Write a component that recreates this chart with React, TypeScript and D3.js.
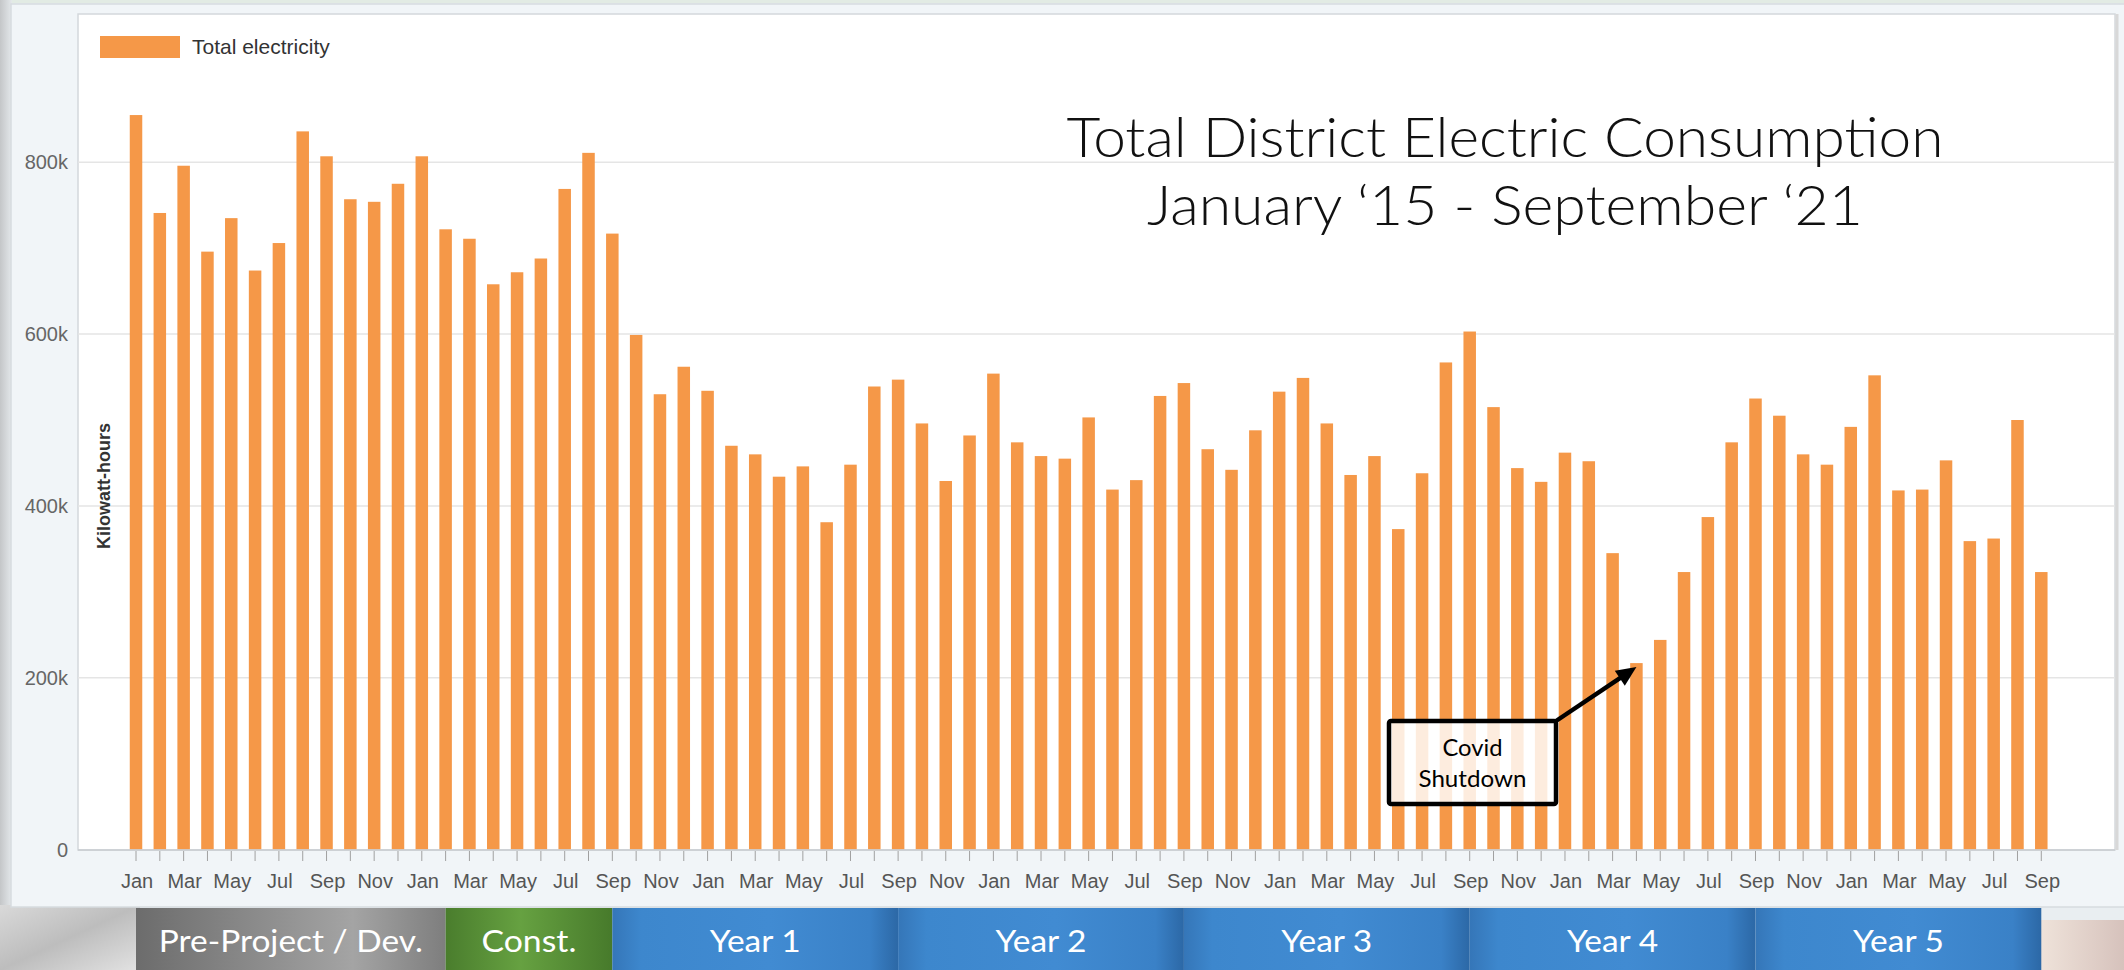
import React from "react";
import * as d3 from "d3";

// ---------- data ----------
const years = [2015, 2016, 2017, 2018, 2019, 2020, 2021];
const monthNames = ["Jan", "Feb", "Mar", "Apr", "May", "Jun", "Jul", "Aug", "Sep", "Oct", "Nov", "Dec"];

// Total electricity, kWh
const kwh2015 = [855000, 741000, 796000, 696000, 735000, 674000, 706000, 836000, 807000, 757000, 754000, 775000];
const kwh2016 = [807000, 722000, 711000, 658000, 672000, 688000, 769000, 811000, 717000, 599000, 530000, 562000];
const kwh2017 = [534000, 470000, 460000, 434000, 446000, 381000, 448000, 539000, 547000, 496000, 429000, 482000];
const kwh2018 = [554000, 474000, 458000, 455000, 503000, 419000, 430000, 528000, 543000, 466000, 442000, 488000];
const kwh2019 = [533000, 549000, 496000, 436000, 458000, 373000, 438000, 567000, 603000, 515000, 444000, 428000];
const kwh2020 = [462000, 452000, 345000, 217000, 244000, 323000, 387000, 474000, 525000, 505000, 460000, 448000];
const kwh2021 = [492000, 552000, 418000, 419000, 453000, 359000, 362000, 500000, 323000];

const yTicks = [0, 200000, 400000, 600000, 800000];

// project phases (start index in months, end = next start)
const phaseNames = ["Pre-Project / Dev.", "Const.", "Year 1", "Year 2", "Year 3", "Year 4", "Year 5"];
const phaseStart = [0, 13, 20, 32, 44, 56, 68];
const phaseEnd = [13, 20, 32, 44, 56, 68, 80];
const phaseFill = ["url(#gGray)", "url(#gGreen)", "url(#gBlue)", "url(#gBlue)", "url(#gBlue)", "url(#gBlue)", "url(#gBlue)"];
const phaseTextLen = [264, 95, 91, 91, 91, 91, 91];

const titleLines = ["Total District Electric Consumption", "January \u201815 - September \u201821"];
const covidLines = ["Covid", "Shutdown"];
const covidIndex = 63; // Apr 2020

export default function App() {
  const W = 2124;
  const H = 970;
  const allValues = [...kwh2015, ...kwh2016, ...kwh2017, ...kwh2018, ...kwh2019, ...kwh2020, ...kwh2021];
  const cats = allValues.map((_, i) => `${years[Math.floor(i / 12)]}-${monthNames[i % 12]}`);

  const plotL = 78, plotR = 2115, plotT = 14, plotB = 850;

  const x = d3.scaleBand<string>().domain(cats).range([124.1, 2053.2]).paddingInner(0.475).paddingOuter(0.2375);
  const y = d3.scaleLinear().domain([0, 800000]).range([849.5, 162.3]);
  const xc = (i: number) => (x(cats[i]) as number) + x.bandwidth() / 2;

  const ORANGE = "#f59848";

  // covid annotation
  const box = { x0: 1389, y0: 721, x1: 1556, y1: 804 };
  const tipX = xc(covidIndex);
  const tipY = y(allValues[covidIndex]) + 4;
  const sx = box.x1, sy = box.y0;
  const dx = tipX - sx, dy = tipY - sy;
  const len = Math.sqrt(dx * dx + dy * dy);
  const ux = dx / len, uy = dy / len;
  const headL = 20, headW = 9;
  const bx = tipX - ux * headL, by = tipY - uy * headL;
  const head = `${tipX},${tipY} ${bx - uy * headW},${by + ux * headW} ${bx + uy * headW},${by - ux * headW}`;

  return (
    <svg width={W} height={H} style={{ position: "absolute", left: 0, top: 0 }} xmlns="http://www.w3.org/2000/svg">
      <defs>
        <linearGradient id="gGray" x1="0" x2="1" y1="0" y2="0">
          <stop offset="0" stopColor="#6c6c6c" />
          <stop offset="0.7" stopColor="#a4a4a4" />
          <stop offset="1" stopColor="#7e7e7e" />
        </linearGradient>
        <linearGradient id="gGreen" x1="0" x2="1" y1="0" y2="0">
          <stop offset="0" stopColor="#4a7d2d" />
          <stop offset="0.45" stopColor="#66a141" />
          <stop offset="1" stopColor="#477a2b" />
        </linearGradient>
        <linearGradient id="gBlue" x1="0" x2="1" y1="0" y2="0">
          <stop offset="0" stopColor="#3576b8" />
          <stop offset="0.1" stopColor="#3d87cd" />
          <stop offset="0.55" stopColor="#418bd2" />
          <stop offset="0.9" stopColor="#3a81c7" />
          <stop offset="1" stopColor="#2c68a6" />
        </linearGradient>
        <linearGradient id="gBL" x1="0" x2="1" y1="0" y2="1">
          <stop offset="0" stopColor="#d9d9d9" />
          <stop offset="0.5" stopColor="#bdbdbd" />
          <stop offset="1" stopColor="#e2e2e2" />
        </linearGradient>
        <linearGradient id="gBR" x1="0" x2="1" y1="0" y2="0">
          <stop offset="0" stopColor="#efe3da" />
          <stop offset="1" stopColor="#d6c2bc" />
        </linearGradient>
        <linearGradient id="gLeft" x1="0" x2="1" y1="0" y2="0">
          <stop offset="0" stopColor="#c4c6c8" />
          <stop offset="1" stopColor="#e4e8eb" />
        </linearGradient>
      </defs>

      {/* background */}
      <rect x={0} y={0} width={W} height={H} fill="#e9eef1" />
      <rect x={0} y={0} width={W} height={3} fill="#e2ebe4" />
      <rect x={0} y={0} width={12} height={H} fill="url(#gLeft)" />
      <rect x={0} y={905} width={140} height={65} fill="url(#gBL)" />
      <rect x={2040} y={920} width={84} height={50} fill="url(#gBR)" />

      {/* panel */}
      <rect x={11} y={4} width={2120} height={903} fill="#f1f5f8" stroke="#d6dbdf" strokeWidth={1.5} />
      <rect x={plotL} y={plotT} width={plotR - plotL} height={plotB - plotT} fill="#ffffff" stroke="#d4d8dc" strokeWidth={1.5} />
      <line x1={plotR + 2} x2={plotR + 2} y1={plotT} y2={plotB} stroke="#d8d8d8" strokeWidth={3} />

      {/* gridlines */}
      {yTicks.filter((t) => t > 0).map((t) => (
        <line key={t} x1={plotL} x2={plotR} y1={y(t)} y2={y(t)} stroke="#e5e5e5" strokeWidth={1.5} />
      ))}

      {/* y tick labels */}
      {yTicks.map((t) => (
        <text key={t} x={68} y={y(t) + 7} textAnchor="end" fontFamily="'Liberation Sans', Arial, sans-serif" fontSize={20} fill="#666">
          {t === 0 ? "0" : `${t / 1000}k`}
        </text>
      ))}

      {/* y axis title */}
      <text transform={`translate(110,486) rotate(-90)`} textAnchor="middle" fontFamily="'Liberation Sans', Arial, sans-serif" fontWeight="bold" fontSize={18} fill="#333">
        Kilowatt-hours
      </text>

      {/* bars */}
      {allValues.map((v, i) => (
        <rect key={cats[i]} x={x(cats[i])} y={y(v)} width={x.bandwidth()} height={y(0) - y(v)} fill={ORANGE} />
      ))}

      {/* x axis */}
      <line x1={plotL} x2={plotR} y1={plotB} y2={plotB} stroke="#c8ccd0" strokeWidth={1.5} />
      {cats.map((c, i) => (
        <line key={c} x1={xc(i)} x2={xc(i)} y1={plotB + 1} y2={plotB + 11} stroke="#a0a0a0" strokeWidth={1} />
      ))}
      {cats.map((c, i) =>
        i % 2 === 0 ? (
          <text key={c} x={xc(i) + 1} y={888} textAnchor="middle" fontFamily="'Liberation Sans', Arial, sans-serif" fontSize={20} fill="#555">
            {monthNames[i % 12]}
          </text>
        ) : null
      )}

      {/* legend */}
      <rect x={100} y={36} width={80} height={22} fill={ORANGE} />
      <text x={192} y={54} fontFamily="'Liberation Sans', Arial, sans-serif" fontSize={21} fill="#333">Total electricity</text>

      {/* title */}
      {titleLines.map((t, i) => (
        <text key={t} x={1505} y={157 + i * 68} textAnchor="middle" fontFamily="Lato, 'Open Sans', sans-serif" fontWeight={300} fontSize={56} fill="#111" textLength={i === 0 ? 877 : 716} lengthAdjust="spacingAndGlyphs">
          {t}
        </text>
      ))}

      {/* covid annotation */}
      <rect x={box.x0} y={box.y0} width={box.x1 - box.x0} height={box.y1 - box.y0} rx={2} fill="#ffffff" fillOpacity={0.82} stroke="#000" strokeWidth={4.5} />
      {covidLines.map((t, i) => (
        <text key={t} x={(box.x0 + box.x1) / 2} y={756 + i * 31} textAnchor="middle" fontFamily="Lato, 'Open Sans', sans-serif" fontSize={23} fill="#000" textLength={i === 0 ? 60 : 108} lengthAdjust="spacingAndGlyphs">
          {t}
        </text>
      ))}
      <line x1={sx} y1={sy} x2={tipX - ux * 14} y2={tipY - uy * 14} stroke="#000" strokeWidth={4.5} />
      <polygon points={head} fill="#000" />

      {/* phases */}
      {phaseNames.map((p, i) => {
        const a = xc(phaseStart[i]);
        const b = xc(phaseEnd[i]);
        return (
          <g key={p}>
            <rect x={a} y={908} width={b - a} height={62} fill={phaseFill[i]} />
            <text x={(a + b) / 2} y={952} textAnchor="middle" fontFamily="Lato, 'Open Sans', sans-serif" fontSize={31} fill="#ffffff" textLength={phaseTextLen[i]} lengthAdjust="spacingAndGlyphs">
              {p}
            </text>
          </g>
        );
      })}
    </svg>
  );
}
